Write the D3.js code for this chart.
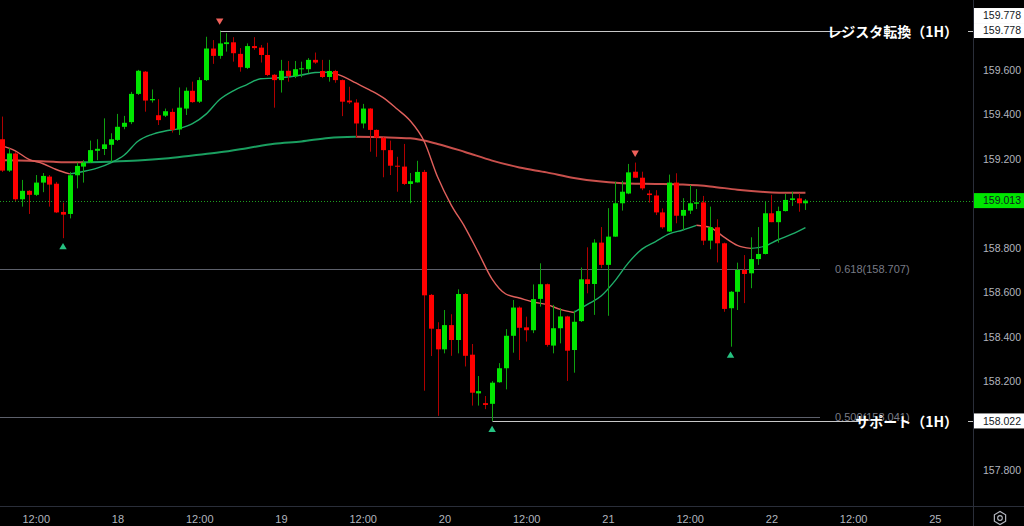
<!DOCTYPE html>
<html>
<head>
<meta charset="utf-8">
<script src="https://cdn.jsdelivr.net/npm/d3@7"></script>
<style>
  html, body { margin: 0; padding: 0; background: #000; overflow: hidden; }
  svg { display: block; }
</style>
</head>
<body>
<svg id="chart"></svg>
<script>
// 1H candles, 17th 07:00 -> 22nd 05:00 (index = hours since first bar)
const candleOpen = [
  159.289,159.148,159.225,159.019,159.057,159.039,159.094,159.121,159.089,158.962,
  158.953,159.127,159.166,159.185,159.237,159.245,159.264,159.286,159.345,159.366,
  159.493,159.593,159.464,159.397,159.395,159.412,159.333,159.427,159.507,159.458,
  159.555,159.697,159.664,159.717,159.725,159.673,159.610,159.708,159.701,159.668,
  159.579,159.555,159.597,159.573,159.604,159.604,159.646,159.596,159.569,159.596,
  159.555,159.463,159.454,159.360,159.427,159.331,159.296,159.240,159.170,159.166,
  159.088,159.095,159.142,158.589,158.435,158.344,158.453,158.386,158.593,158.320,
  158.146,158.102,158.099,158.196,158.259,158.405,158.532,158.443,158.430,158.571,
  158.637,158.361,158.439,158.492,158.341,158.471,158.659,158.638,158.824,158.724,
  158.851,159.001,159.045,159.143,159.116,159.045,159.036,158.960,158.874,159.094,
  158.945,158.968,158.999,159.005,158.833,158.893,158.821,158.529,158.603,158.701,
  158.686,158.750,158.773,158.956,158.916,158.966,159.016,159.023,159.001
];
const candleHigh = [
  159.391,159.249,159.231,159.106,159.060,159.128,159.137,159.128,159.097,159.004,
  159.142,159.184,159.195,159.283,159.289,159.383,159.316,159.403,159.394,159.502,
  159.601,159.596,159.513,159.469,159.427,159.427,159.522,159.522,159.548,159.568,
  159.750,159.735,159.778,159.766,159.748,159.699,159.720,159.748,159.713,159.723,
  159.582,159.646,159.641,159.641,159.638,159.654,159.679,159.646,159.646,159.601,
  159.558,159.525,159.469,159.448,159.429,159.333,159.298,159.283,159.210,159.268,
  159.137,159.192,159.151,158.593,158.466,158.521,158.502,158.614,158.597,158.368,
  158.224,158.134,158.201,158.282,158.435,158.566,158.537,158.491,158.636,158.731,
  158.640,158.544,158.529,158.495,158.518,158.712,158.803,158.839,158.894,158.979,
  159.098,159.102,159.178,159.184,159.143,159.060,159.060,158.978,159.130,159.136,
  159.024,159.083,159.065,159.034,158.986,158.929,158.824,158.606,158.734,158.768,
  158.848,158.894,159.008,159.039,158.986,159.043,159.053,159.045,159.020
];
const candleLow = [
  159.142,159.142,159.011,158.986,158.953,159.034,159.051,158.986,158.957,158.844,
  158.933,159.068,159.094,159.183,159.195,159.218,159.187,159.281,159.334,159.357,
  159.488,159.413,159.454,159.353,159.389,159.319,159.308,159.398,159.453,159.452,
  159.551,159.628,159.651,159.683,159.638,159.593,159.605,159.691,159.634,159.573,
  159.431,159.499,159.548,159.564,159.568,159.586,159.628,159.564,159.548,159.543,
  159.393,159.448,159.298,159.338,159.233,159.210,159.118,159.128,159.053,159.083,
  159.001,159.094,158.158,158.314,158.045,158.326,158.315,158.326,158.267,158.091,
  158.091,158.075,158.022,158.194,158.164,158.329,158.296,158.379,158.417,158.536,
  158.356,158.326,158.371,158.202,158.239,158.467,158.596,158.499,158.709,158.495,
  158.850,158.968,159.042,159.115,159.060,159.004,158.948,158.886,158.872,158.911,
  158.881,158.953,158.975,158.813,158.794,158.735,158.513,158.356,158.521,158.552,
  158.619,158.724,158.771,158.916,158.824,158.964,158.989,158.963,158.971
];
const candleClose = [
  159.148,159.225,159.019,159.057,159.039,159.094,159.124,159.085,158.960,158.950,
  159.127,159.169,159.184,159.240,159.246,159.266,159.289,159.345,159.363,159.493,
  159.597,159.463,159.470,159.375,159.415,159.331,159.431,159.507,159.456,159.555,
  159.697,159.664,159.720,159.725,159.676,159.613,159.708,159.699,159.668,159.578,
  159.555,159.597,159.573,159.604,159.608,159.646,159.634,159.569,159.596,159.555,
  159.458,159.455,159.360,159.427,159.331,159.296,159.240,159.170,159.166,159.088,
  159.100,159.142,158.587,158.437,158.344,158.453,158.386,158.593,158.315,158.149,
  158.156,158.094,158.194,158.259,158.405,158.532,158.441,158.430,158.570,158.637,
  158.364,158.439,158.492,158.338,158.468,158.659,158.638,158.824,158.724,158.851,
  159.001,159.053,159.140,159.116,159.068,159.038,158.960,158.893,159.094,158.945,
  158.971,159.001,159.005,158.833,158.893,158.821,158.526,158.603,158.701,158.683,
  158.750,158.773,158.956,158.916,158.966,159.016,159.023,159.001,159.013
];

// moving averages
const fastMaIndex = d3.range(0, 119, 2);
const fastMa = [
  159.259,159.237,159.198,159.180,159.153,159.133,159.144,159.159,159.183,159.218,
  159.280,159.310,159.326,159.337,159.359,159.402,159.468,159.507,159.535,159.561,
  159.564,159.569,159.578,159.589,159.591,159.573,159.542,159.511,159.476,159.426,
  159.371,159.281,159.119,158.993,158.894,158.778,158.660,158.593,158.575,158.557,
  158.546,158.524,158.510,158.546,158.584,158.651,158.733,158.795,158.829,158.863,
  158.881,158.902,158.892,158.850,158.812,158.798,158.808,158.837,158.862,158.892
];
const slowMaIndex = [0,4,8,12,16,20,24,28,32,36,40,44,48,52,56,60,64,68,72,76,80,84,88,92,96,100,104,108,112,116,118];
const slowMa = [
  159.195,159.192,159.187,159.185,159.188,159.193,159.202,159.216,159.230,159.249,
  159.269,159.279,159.295,159.300,159.298,159.293,159.268,159.232,159.193,159.162,
  159.140,159.115,159.099,159.090,159.088,159.085,159.077,159.062,159.052,159.048,159.048
];

// swing markers
const markerIndex = [9, 32, 72, 93, 107];
const markerType = ["low", "high", "low", "high", "low"];

// levels
const resistanceLevel = 159.778;
const resistanceFrom = 32;
const resistanceText = "レジスタ転換（1H）";
const supportLevel = 158.022;
const supportFrom = 72;
const supportText = "サポート（1H）";
const fibLevels = [158.707, 158.041];
const fibLabels = ["0.618(158.707)", "0.500(158.041)"];

// axes
const priceTicks = [157.8, 158.2, 158.4, 158.6, 158.8, 159.2, 159.4, 159.6];
const timeTickIndex = [5, 17, 29, 41, 53, 65, 77, 89, 101, 113, 125, 137];
const timeTickLabels = ["12:00", "18", "12:00", "19", "12:00", "20", "12:00", "21", "12:00", "22", "12:00", "25"];

const width = 1024;
const height = 526;
const plotRight = 973;
const plotBottom = 506;
const numFont = "'Liberation Sans', Arial, sans-serif";
const jpFont = "'Noto Sans CJK JP', 'Noto Sans', sans-serif";

const upColor = "#00e600";
const downColor = "#ff0000";
const upWick = "#0fa00f";
const downWick = "#b00000";

const svg = d3.select("#chart").attr("width", width).attr("height", height);
svg.append("rect").attr("width", width).attr("height", height).attr("fill", "#000");

const xScale = d3.scaleLinear().domain([-0.25, 142.6]).range([0, plotRight]);
const yScale = d3.scaleLinear().domain([157.8, 159.6]).range([470.3, 70.1]);

svg.append("clipPath").attr("id", "plot-clip")
  .append("rect").attr("width", plotRight).attr("height", plotBottom);

const plot = svg.append("g").attr("clip-path", "url(#plot-clip)");
const crisp = (v) => Math.round(v) + 0.5;

// fib lines
fibLevels.forEach((lv, i) => {
  const y = crisp(yScale(lv));
  plot.append("line")
    .attr("x1", 0).attr("x2", 820).attr("y1", y).attr("y2", y)
    .attr("stroke", "#5d606b").attr("stroke-width", 1);
  plot.append("text")
    .attr("x", 835).attr("y", y).attr("dy", "0.35em")
    .attr("fill", "#787b86").attr("font-size", 11).attr("font-family", numFont)
    .text(fibLabels[i]);
});

// last price line
const lastClose = candleClose[candleClose.length - 1];
plot.append("line")
  .attr("x1", 0).attr("x2", plotRight)
  .attr("y1", crisp(yScale(lastClose))).attr("y2", crisp(yScale(lastClose)))
  .attr("stroke", "#1f9e1f").attr("stroke-dasharray", "1,2");

// moving averages, coloured by direction
const drawMa = (idx, vals, lineWidth, upStroke, downStroke) => {
  const runs = [];
  let cur = [[idx[0], vals[0]]];
  let dir = null;
  for (let i = 1; i < vals.length; i++) {
    const d = vals[i] > vals[i - 1] ? "up" : "down";
    if (dir === null || d === dir) {
      cur.push([idx[i], vals[i]]);
    } else {
      runs.push({ dir, pts: cur });
      cur = [[idx[i - 1], vals[i - 1]], [idx[i], vals[i]]];
    }
    dir = d;
  }
  runs.push({ dir, pts: cur });

  const line = d3.line()
    .x((d) => xScale(d[0]))
    .y((d) => yScale(d[1]))
    .curve(d3.curveMonotoneX);

  plot.append("g").selectAll("path")
    .data(runs)
    .enter()
    .append("path")
    .attr("d", (r) => line(r.pts))
    .attr("fill", "none")
    .attr("stroke", (r) => (r.dir === "up" ? upStroke : downStroke))
    .attr("stroke-width", lineWidth);
};

drawMa(slowMaIndex, slowMa, 2, "#1a9f60", "#c9504c");
drawMa(fastMaIndex, fastMa, 1.4, "#1fae6a", "#e0605c");

// candles
const candles = candleOpen.map((o, i) => ({
  i, o, h: candleHigh[i], l: candleLow[i], c: candleClose[i]
}));
const bodyWidth = 5;

const cg = plot.append("g");
cg.selectAll("line.wick")
  .data(candles)
  .enter()
  .append("line")
  .attr("class", "wick")
  .attr("x1", (d) => crisp(xScale(d.i)))
  .attr("x2", (d) => crisp(xScale(d.i)))
  .attr("y1", (d) => yScale(d.h))
  .attr("y2", (d) => yScale(d.l))
  .attr("stroke", (d) => (d.c >= d.o ? upWick : downWick))
  .attr("stroke-width", 1);

cg.selectAll("rect.body")
  .data(candles)
  .enter()
  .append("rect")
  .attr("class", "body")
  .attr("x", (d) => Math.round(xScale(d.i)) - 2)
  .attr("width", bodyWidth)
  .attr("y", (d) => yScale(Math.max(d.o, d.c)))
  .attr("height", (d) => Math.max(1, Math.abs(yScale(d.o) - yScale(d.c))))
  .attr("fill", (d) => (d.c >= d.o ? upColor : downColor));

// resistance / support lines
const yRes = crisp(yScale(resistanceLevel));
plot.append("line")
  .attr("x1", crisp(xScale(resistanceFrom))).attr("x2", 844)
  .attr("y1", yRes).attr("y2", yRes)
  .attr("stroke", "#c8c8c8");
plot.append("text")
  .attr("x", 958).attr("y", yRes).attr("dy", "0.36em")
  .attr("text-anchor", "end")
  .attr("fill", "#ffffff").attr("font-size", 14).attr("font-weight", 700)
  .attr("font-family", jpFont)
  .text(resistanceText);

const ySup = crisp(yScale(supportLevel));
plot.append("line")
  .attr("x1", crisp(xScale(supportFrom))).attr("x2", 860)
  .attr("y1", ySup).attr("y2", ySup)
  .attr("stroke", "#c8c8c8");
plot.append("text")
  .attr("x", 958).attr("y", ySup).attr("dy", "0.36em")
  .attr("text-anchor", "end")
  .attr("fill", "#ffffff").attr("font-size", 14).attr("font-weight", 700)
  .attr("font-family", jpFont)
  .text(supportText);

// swing markers
const tri = d3.symbol().type(d3.symbolTriangle).size(24);
plot.append("g").selectAll("path")
  .data(markerIndex.map((k, i) => ({ k, t: markerType[i] })))
  .enter()
  .append("path")
  .attr("d", tri)
  .attr("transform", (d) => {
    const x = xScale(d.k);
    return d.t === "high"
      ? `translate(${x}, ${yScale(candleHigh[d.k]) - 10}) rotate(180)`
      : `translate(${x}, ${yScale(candleLow[d.k]) + 9})`;
  })
  .attr("fill", (d) => (d.t === "high" ? "#f0605a" : "#26c281"));

// frame lines
svg.append("line")
  .attr("x1", plotRight + 0.5).attr("x2", plotRight + 0.5)
  .attr("y1", 0).attr("y2", height)
  .attr("stroke", "#2a2e39");
svg.append("line")
  .attr("x1", 0).attr("x2", width)
  .attr("y1", plotBottom + 0.5).attr("y2", plotBottom + 0.5)
  .attr("stroke", "#2a2e39");

// price axis
const yAxis = d3.axisRight(yScale)
  .tickValues(priceTicks)
  .tickFormat(d3.format(".3f"))
  .tickSize(0)
  .tickPadding(0);

const yg = svg.append("g")
  .attr("transform", `translate(${plotRight}, 0)`)
  .call(yAxis);
yg.select(".domain").remove();
yg.selectAll("text")
  .attr("x", 29)
  .attr("text-anchor", "middle")
  .attr("fill", "#b2b5be")
  .attr("font-size", 10.5)
  .attr("font-family", numFont);

// time axis
const xAxis = d3.axisBottom(xScale)
  .tickValues(timeTickIndex)
  .tickFormat((d, i) => timeTickLabels[i])
  .tickSize(0);

const xg = svg.append("g")
  .attr("transform", `translate(0, ${plotBottom})`)
  .call(xAxis);
xg.select(".domain").remove();
xg.selectAll("text")
  .attr("y", 17)
  .attr("dy", 0)
  .attr("fill", "#b2b5be")
  .attr("font-size", 11)
  .attr("font-family", numFont);

// price labels on the axis
const axisLabels = [
  { v: resistanceLevel, shift: -15, fill: "#ffffff", tick: false },
  { v: resistanceLevel, shift: 0, fill: "#ffffff", tick: true },
  { v: lastClose, shift: 0, fill: "#00e600", tick: false },
  { v: supportLevel, shift: 0, fill: "#ffffff", tick: true }
];
const lg = svg.append("g");
axisLabels.forEach((d) => {
  const y = yScale(d.v) + d.shift;
  lg.append("rect")
    .attr("x", plotRight + 1).attr("y", y - 7.5)
    .attr("width", width - plotRight - 1).attr("height", 15)
    .attr("fill", d.fill);
  lg.append("text")
    .attr("x", plotRight + 29).attr("y", y).attr("dy", "0.35em")
    .attr("text-anchor", "middle")
    .attr("fill", "#131722").attr("font-size", 10.5).attr("font-family", numFont)
    .text(d3.format(".3f")(d.v));
  if (d.tick) {
    lg.append("line")
      .attr("x1", plotRight - 5).attr("x2", plotRight)
      .attr("y1", crisp(y)).attr("y2", crisp(y))
      .attr("stroke", "#c8c8c8");
  }
});

// settings icon
const gear = svg.append("g").attr("transform", "translate(1000, 518)");
const hex = d3.range(6).map((i) => {
  const a = Math.PI / 3 * i + Math.PI / 6;
  return [6.5 * Math.cos(a), 6.5 * Math.sin(a)];
});
gear.append("path")
  .attr("d", d3.line()(hex) + "Z")
  .attr("fill", "none").attr("stroke", "#b2b5be").attr("stroke-width", 1.2);
gear.append("circle")
  .attr("r", 2.3)
  .attr("fill", "none").attr("stroke", "#b2b5be").attr("stroke-width", 1.2);
</script>
</body>
</html>
